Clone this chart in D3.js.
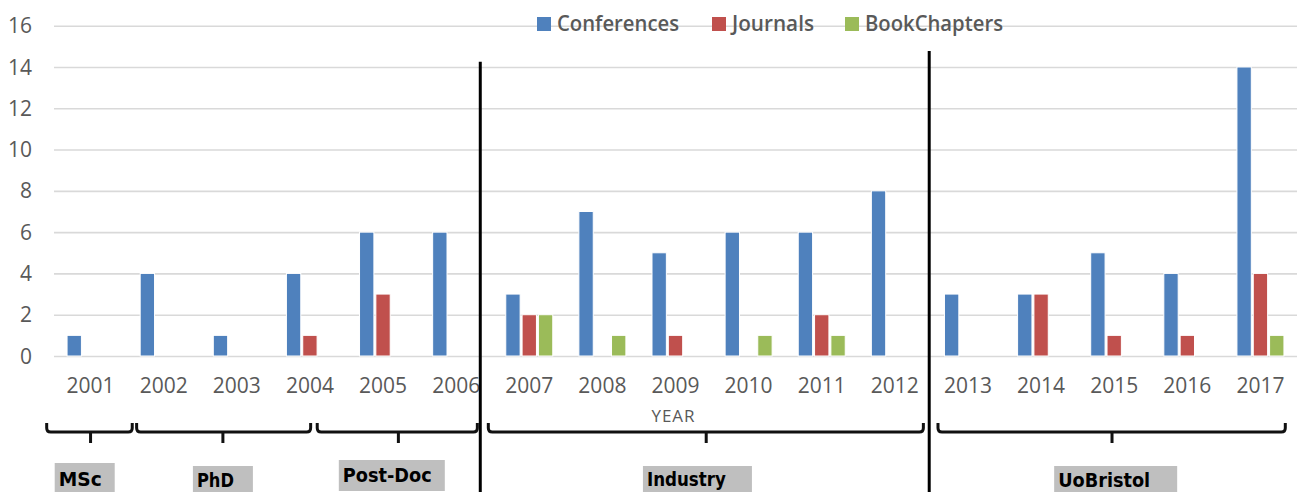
<!DOCTYPE html>
<html>
<head>
<meta charset="utf-8">
<script src="https://cdn.jsdelivr.net/npm/d3@7"></script>
<style>
  html, body { margin: 0; padding: 0; background: #fff; }
  svg { display: block; }
</style>
</head>
<body>
<svg id="chart" width="1303" height="492"></svg>
<script>
// ---- data ----
const years = ["2001","2002","2003","2004","2005","2006","2007","2008","2009","2010","2011","2012","2013","2014","2015","2016","2017"];
const seriesNames = ["Conferences", "Journals", "BookChapters"];
const conferences = [1, 4, 1, 4, 6, 6, 3, 7, 5, 6, 6, 8, 3, 3, 5, 4, 14];
const journals    = [0, 0, 0, 1, 3, 0, 2, 0, 1, 0, 2, 0, 0, 3, 1, 1, 4];
const bookChapters= [0, 0, 0, 0, 0, 0, 2, 1, 0, 1, 1, 0, 0, 0, 0, 0, 1];
const yTicks = [0, 2, 4, 6, 8, 10, 12, 14, 16];
const xAxisTitle = "YEAR";
// career periods (spans in fractional year units)
const periodLabels = ["MSc", "PhD", "Post-Doc", "Industry", "UoBristol"];
const periodStart  = [2000.40, 2001.63, 2004.10, 2006.44, 2012.59];
const periodEnd    = [2001.57, 2004.01, 2006.29, 2012.39, 2017.34];
const periodMid    = [2001.00, 2002.81, 2005.21, 2009.42, 2014.97];
const periodLabelAt= [2000.92, 2002.81, 2005.12, 2009.30, 2015.02];
// separators between career phases (year position, top value)
const separatorAt  = [2006.33, 2012.47];
const separatorTop = [14.25, 14.78];

const colors = ["#4f81bd", "#c0504d", "#9bbb59"];
const values = [conferences, journals, bookChapters];

// ---- layout ----
const svg = d3.select("#chart");
const plotLeft = 54, plotRight = 1297, plotTop = 25.7, plotBottom = 356;
const numFont = "'Open Sans', 'Noto Sans', sans-serif";
const boldFont = "'Liberation Sans Narrow', 'DejaVu Sans Condensed', 'Liberation Sans', sans-serif";

const x = d3.scaleBand().domain(years).range([plotLeft, plotRight]).padding(0);
const xs = d3.scaleBand().domain(seriesNames).range([-23.5, 23.5]).paddingInner(0.12);
const y = d3.scaleLinear().domain([0, 16]).range([plotBottom, plotTop]);
const yearPos = d3.scaleLinear()
  .domain([2001, 2017])
  .range([x("2001") + x.bandwidth() / 2, x("2017") + x.bandwidth() / 2]);

// gridlines
const yAxis = d3.axisLeft(y).tickValues(yTicks).tickSize(-(plotRight - plotLeft)).tickPadding(22).tickFormat(d3.format("d"));
const gy = svg.append("g").attr("transform", `translate(${plotLeft},0)`).call(yAxis);
gy.select(".domain").remove();
gy.selectAll(".tick line").attr("stroke", "#d9d9d9").attr("stroke-width", 1.6);
gy.selectAll(".tick text")
  .attr("fill", "#595959").attr("font-family", numFont).attr("font-size", 21)
  .attr("dy", "0.34em");

// x axis labels
const xAxis = d3.axisBottom(x).tickSize(0).tickPadding(0);
const gx = svg.append("g").attr("transform", `translate(0,${plotBottom})`).call(xAxis);
gx.select(".domain").remove();
gx.selectAll(".tick text")
  .attr("fill", "#595959").attr("font-family", numFont).attr("font-size", 21)
  .attr("y", 30).attr("dy", "0.34em");

// bars
seriesNames.forEach((s, si) => {
  svg.append("g").selectAll("rect")
    .data(years.map((yr, i) => ({ yr, v: values[si][i] })).filter(d => d.v > 0))
    .join("rect")
    .attr("x", d => x(d.yr) + x.bandwidth() / 2 + xs(s))
    .attr("width", xs.bandwidth())
    .attr("y", d => y(d.v))
    .attr("height", d => y(0) - y(d.v))
    .attr("fill", colors[si])
    .attr("stroke", "#fff")
    .attr("stroke-width", 1);
});

// legend
const legendItems = [
  { name: seriesNames[0], c: colors[0], x: 537, w: 122 },
  { name: seriesNames[1], c: colors[1], x: 712, w: 82 },
  { name: seriesNames[2], c: colors[2], x: 845, w: 138 }
];
const lg = svg.append("g");
legendItems.forEach(it => {
  lg.append("rect").attr("x", it.x).attr("y", 17).attr("width", 14).attr("height", 14).attr("fill", it.c);
  lg.append("text").attr("x", it.x + 20).attr("y", 31)
    .attr("font-family", numFont).attr("font-size", 21).attr("font-weight", 600).attr("fill", "#595959")
    .attr("textLength", it.w).attr("lengthAdjust", "spacingAndGlyphs")
    .text(it.name);
});

// x axis title
svg.append("text").attr("x", yearPos(2009) - 2).attr("y", 422)
  .attr("text-anchor", "middle").attr("font-family", numFont).attr("font-size", 17)
  .attr("fill", "#595959").attr("letter-spacing", 1).text(xAxisTitle);

// separators
separatorAt.forEach((s, i) => {
  svg.append("line")
    .attr("x1", yearPos(s)).attr("x2", yearPos(s))
    .attr("y1", y(separatorTop[i])).attr("y2", 492)
    .attr("stroke", "#000").attr("stroke-width", 3);
});

// brackets
const bTop = 423, bLine = 432, bTick = 443, r = 4;
periodLabels.forEach((lab, i) => {
  const x1 = yearPos(periodStart[i]), x2 = yearPos(periodEnd[i]), xm = yearPos(periodMid[i]);
  const p = d3.path();
  p.moveTo(x1, bTop);
  p.lineTo(x1, bLine - r);
  p.quadraticCurveTo(x1, bLine, x1 + r, bLine);
  p.lineTo(x2 - r, bLine);
  p.quadraticCurveTo(x2, bLine, x2, bLine - r);
  p.lineTo(x2, bTop);
  p.moveTo(xm, bLine);
  p.lineTo(xm, bTick);
  svg.append("path").attr("d", p.toString())
    .attr("fill", "none").attr("stroke", "#111").attr("stroke-width", 3)
    .attr("stroke-linejoin", "round");
});

// period labels
const labelBox = [
  { w: 60, top: 463, tw: 43, base: 486 },
  { w: 60, top: 466, tw: 37, base: 487 },
  { w: 106, top: 460, tw: 89, base: 482 },
  { w: 109, top: 466, tw: 79, base: 486 },
  { w: 123, top: 466, tw: 92, base: 487 }
];
periodLabels.forEach((lab, i) => {
  const cx = yearPos(periodLabelAt[i]);
  const b = labelBox[i];
  const left = cx - b.w / 2;
  svg.append("rect").attr("x", left).attr("y", b.top).attr("width", b.w)
    .attr("height", Math.min(31, 492 - b.top)).attr("fill", "#bfbfbf");
  svg.append("text").attr("x", left + 4).attr("y", b.base)
    .attr("font-family", boldFont).attr("font-weight", "bold").attr("font-size", 20)
    .attr("fill", "#000").attr("textLength", b.tw).attr("lengthAdjust", "spacingAndGlyphs")
    .text(lab);
});
</script>
</body>
</html>
